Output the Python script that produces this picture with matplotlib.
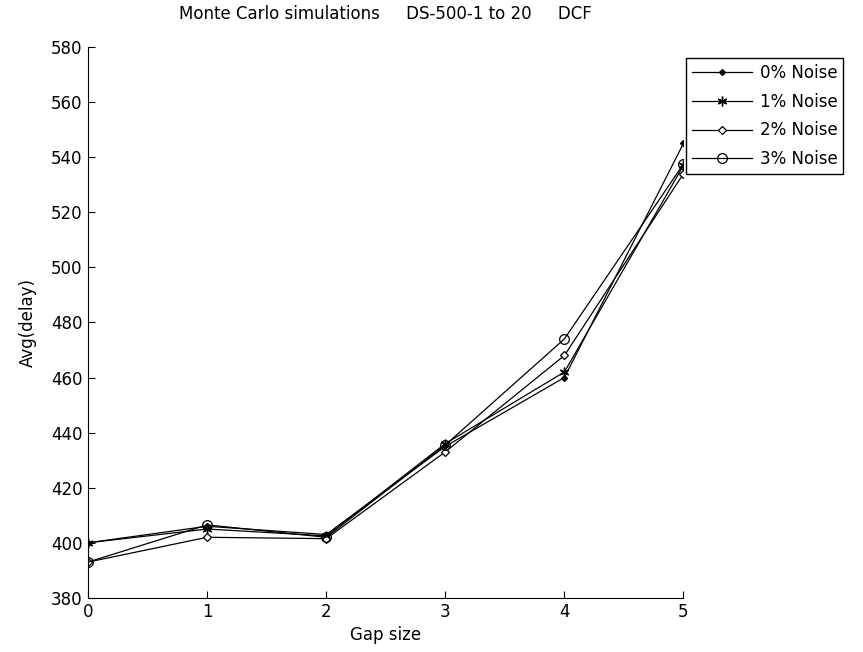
import matplotlib
matplotlib.use("Agg")
import matplotlib.pyplot as plt

plt.rcParams['font.family'] = ['DejaVu Sans']

gap = [0, 1, 2, 3, 4, 5]
noise0 = [400, 406, 403, 435, 460, 545]
noise1 = [400, 405, 402.5, 436, 462, 537]
noise2 = [393, 402, 401.5, 433, 468, 534]
noise3 = [393, 406.5, 402, 435.5, 474, 537.5]
labels = ['0% Noise', '1% Noise', '2% Noise', '3% Noise']
yticks = list(range(380, 581, 20))

fig = plt.figure(figsize=(8.63, 6.52), dpi=100)
ax = fig.add_axes([0.102, 0.083, 0.690, 0.845])

ax.plot(gap, noise0, color='black', lw=0.9, marker='D', ms=3, mfc='black', mec='black', label=labels[0])
ax.plot(gap, noise1, color='black', lw=0.9, marker=(6, 2, 0), ms=7, mec='black', label=labels[1])
ax.plot(gap, noise2, color='black', lw=0.9, marker='D', ms=4.5, mfc='white', mec='black', mew=0.9, label=labels[2])
ax.plot(gap, noise3, color='black', lw=0.9, marker='o', ms=7, mfc='none', mec='black', mew=0.9, label=labels[3])

ax.set_xlim(0, 5)
ax.set_ylim(380, 580)
ax.set_yticks(yticks)
ax.set_xticks(gap)
ax.spines['top'].set_visible(False)
ax.spines['right'].set_visible(False)
ax.tick_params(direction='in', length=5, labelsize=12, colors='black', pad=4)
ax.set_xlabel('Gap size', fontsize=12, labelpad=3)
ax.set_ylabel('Avg(delay)', fontsize=12, labelpad=10)
ax.set_title('Monte Carlo simulations     DS-500-1 to 20     DCF', fontsize=12, pad=20)

leg = ax.legend(loc='upper left', bbox_to_anchor=(1.005, 0.98), fontsize=12,
                frameon=True, fancybox=False, edgecolor='black', framealpha=1,
                borderaxespad=0, handlelength=3.6, handletextpad=0.45,
                borderpad=0.35, labelspacing=0.65)
leg.get_frame().set_linewidth(1.0)

fig.savefig('out.png', dpi=100)
